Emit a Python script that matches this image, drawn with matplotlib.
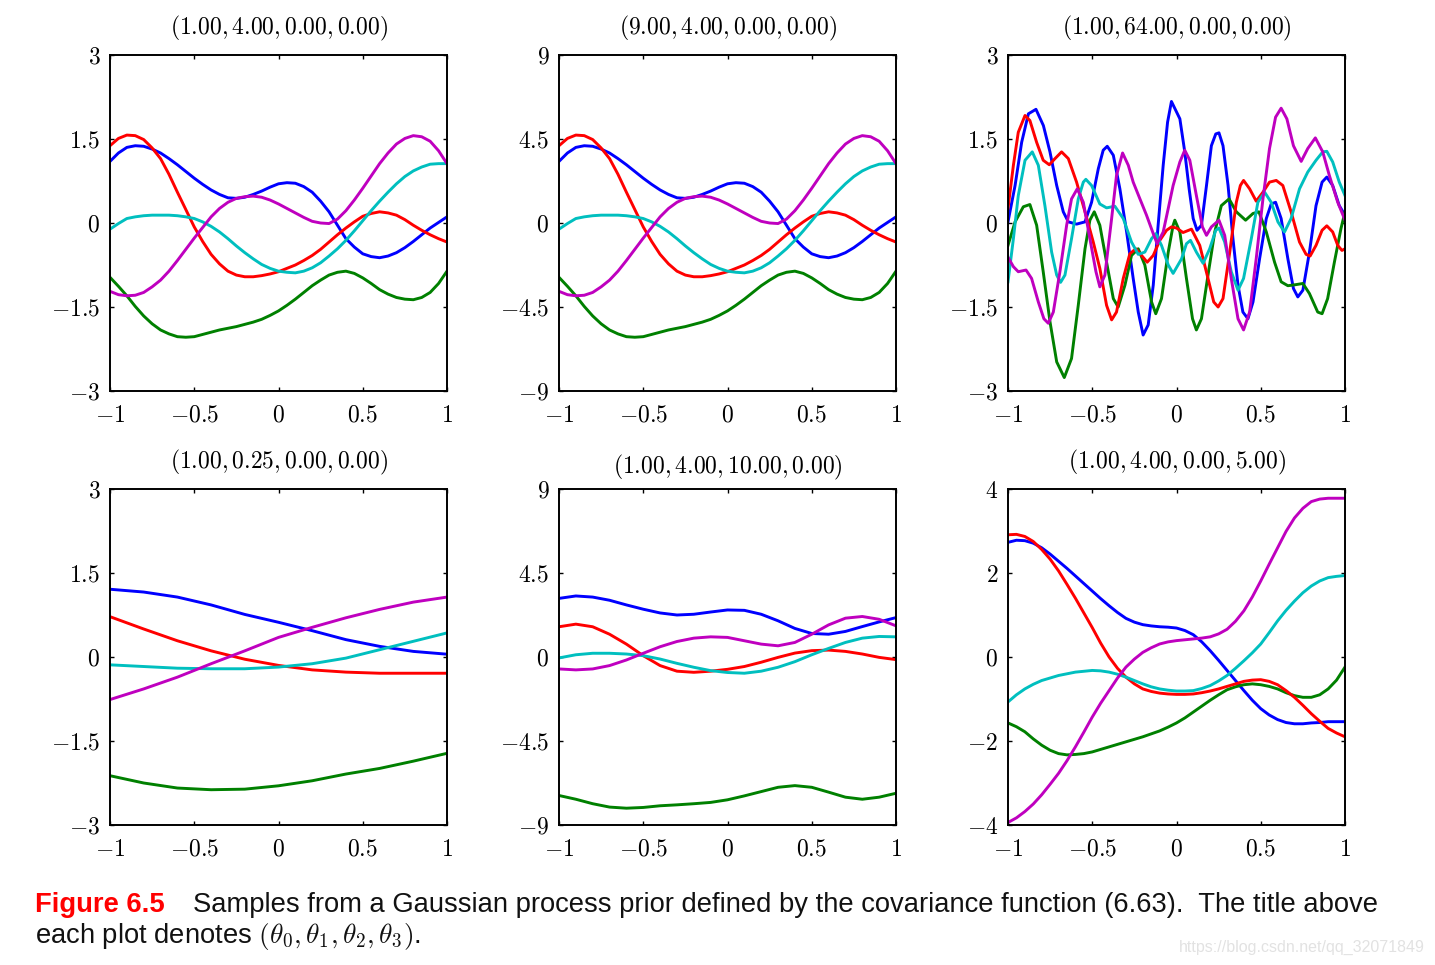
import numpy as np
import matplotlib
matplotlib.use('Agg')
import matplotlib.pyplot as plt

plt.rcParams['mathtext.fontset'] = 'cm'
plt.rcParams['font.family'] = ['Liberation Sans', 'DejaVu Sans']

# colours (matlab default line order b, g, r, c, m)
C_B, C_G, C_R, C_C, C_M = '#0000ff', '#008000', '#ff0000', '#00bfbf', '#bf00bf'

# ---------------- data ----------------
x41 = [-1.0, -0.95, -0.9, -0.85, -0.8, -0.75, -0.7, -0.65, -0.6, -0.55, -0.5,
       -0.45, -0.4, -0.35, -0.3, -0.25, -0.2, -0.15, -0.1, -0.05, 0.0,
       0.05, 0.1, 0.15, 0.2, 0.25, 0.3, 0.35, 0.4, 0.45, 0.5,
       0.55, 0.6, 0.65, 0.7, 0.75, 0.8, 0.85, 0.9, 0.95, 1.0]
x21 = [-1.0, -0.9, -0.8, -0.7, -0.6, -0.5, -0.4, -0.3, -0.2, -0.1, 0.0,
       0.1, 0.2, 0.3, 0.4, 0.5, 0.6, 0.7, 0.8, 0.9, 1.0]
x11 = [-1.0, -0.8, -0.6, -0.4, -0.2, 0.0, 0.2, 0.4, 0.6, 0.8, 1.0]

# (1.00, 4.00, 0.00, 0.00)
p1_blue = [1.10, 1.25, 1.35, 1.38, 1.37, 1.32, 1.25, 1.15, 1.04, 0.92, 0.80,
           0.69, 0.59, 0.51, 0.45, 0.44, 0.46, 0.51, 0.57, 0.64, 0.70,
           0.72, 0.71, 0.65, 0.55, 0.39, 0.20, -0.04, -0.28, -0.43, -0.55,
           -0.60, -0.62, -0.59, -0.53, -0.44, -0.33, -0.21, -0.09, 0.01, 0.11]
p1_green = [-0.97, -1.13, -1.30, -1.49, -1.66, -1.80, -1.91, -1.98, -2.03, -2.04, -2.03,
            -1.99, -1.95, -1.91, -1.88, -1.85, -1.81, -1.77, -1.72, -1.65, -1.57,
            -1.47, -1.36, -1.24, -1.12, -1.02, -0.93, -0.88, -0.86, -0.90, -0.98,
            -1.08, -1.19, -1.27, -1.33, -1.36, -1.37, -1.33, -1.24, -1.08, -0.86]
p1_red = [1.38, 1.51, 1.57, 1.56, 1.49, 1.34, 1.15, 0.87, 0.55, 0.24, -0.07,
          -0.33, -0.56, -0.73, -0.86, -0.93, -0.96, -0.96, -0.94, -0.91, -0.87,
          -0.81, -0.75, -0.67, -0.58, -0.47, -0.34, -0.21, -0.09, 0.02, 0.12,
          0.17, 0.20, 0.18, 0.14, 0.06, -0.04, -0.13, -0.21, -0.28, -0.34]
p1_cyan = [-0.11, -0.01, 0.08, 0.11, 0.13, 0.14, 0.14, 0.14, 0.13, 0.11, 0.08,
           0.02, -0.06, -0.16, -0.28, -0.41, -0.53, -0.64, -0.74, -0.81, -0.86,
           -0.88, -0.89, -0.86, -0.80, -0.71, -0.59, -0.46, -0.31, -0.14, 0.04,
           0.22, 0.39, 0.55, 0.70, 0.83, 0.93, 1.00, 1.05, 1.06, 1.06]
p1_mag = [-1.22, -1.28, -1.30, -1.29, -1.24, -1.14, -1.02, -0.86, -0.67, -0.47, -0.27,
          -0.08, 0.11, 0.26, 0.37, 0.44, 0.47, 0.48, 0.46, 0.41, 0.34,
          0.26, 0.18, 0.10, 0.03, 0.00, -0.01, 0.07, 0.22, 0.41, 0.62,
          0.84, 1.06, 1.25, 1.41, 1.51, 1.56, 1.54, 1.46, 1.29, 1.06]

# (9.00, 4.00, 0.00, 0.00)
p2_blue = [3.30, 3.75, 4.05, 4.14, 4.11, 3.96, 3.75, 3.45, 3.12, 2.76, 2.40,
           2.07, 1.77, 1.53, 1.35, 1.32, 1.38, 1.53, 1.71, 1.92, 2.10,
           2.16, 2.13, 1.95, 1.65, 1.17, 0.60, -0.12, -0.84, -1.29, -1.65,
           -1.80, -1.86, -1.77, -1.59, -1.32, -0.99, -0.63, -0.27, 0.03, 0.33]
p2_green = [-2.91, -3.39, -3.90, -4.47, -4.98, -5.40, -5.73, -5.94, -6.09, -6.12, -6.09,
            -5.97, -5.85, -5.73, -5.64, -5.55, -5.43, -5.31, -5.16, -4.95, -4.71,
            -4.41, -4.08, -3.72, -3.36, -3.06, -2.79, -2.64, -2.58, -2.70, -2.94,
            -3.24, -3.57, -3.81, -3.99, -4.08, -4.11, -3.99, -3.72, -3.24, -2.58]
p2_red = [4.14, 4.53, 4.71, 4.68, 4.47, 4.02, 3.45, 2.61, 1.65, 0.72, -0.21,
          -0.99, -1.68, -2.19, -2.58, -2.79, -2.88, -2.88, -2.82, -2.73, -2.61,
          -2.43, -2.25, -2.01, -1.74, -1.41, -1.02, -0.63, -0.27, 0.06, 0.36,
          0.51, 0.60, 0.54, 0.42, 0.18, -0.12, -0.39, -0.63, -0.84, -1.02]
p2_cyan = [-0.33, -0.03, 0.24, 0.33, 0.39, 0.42, 0.42, 0.42, 0.39, 0.33, 0.24,
           0.06, -0.18, -0.48, -0.84, -1.23, -1.59, -1.92, -2.22, -2.43, -2.58,
           -2.64, -2.67, -2.58, -2.40, -2.13, -1.77, -1.38, -0.93, -0.42, 0.12,
           0.66, 1.17, 1.65, 2.10, 2.49, 2.79, 3.00, 3.15, 3.18, 3.18]
p2_mag = [-3.66, -3.84, -3.90, -3.87, -3.72, -3.42, -3.06, -2.58, -2.01, -1.41, -0.81,
          -0.24, 0.33, 0.78, 1.11, 1.32, 1.41, 1.44, 1.38, 1.23, 1.02,
          0.78, 0.54, 0.30, 0.09, 0.00, -0.03, 0.21, 0.66, 1.23, 1.86,
          2.52, 3.18, 3.75, 4.23, 4.53, 4.68, 4.62, 4.38, 3.87, 3.18]

# (1.00, 64.00, 0.00, 0.00) -- short length scale
p3_blue_x = [-1.000, -0.958, -0.919, -0.879, -0.834, -0.790, -0.751, -0.711, -0.672, -0.642,
             -0.593, -0.543, -0.504, -0.464, -0.435, -0.411, -0.375, -0.336, -0.296, -0.257,
             -0.227, -0.198, -0.168, -0.138, -0.109, -0.079, -0.053, -0.030, 0.020, 0.049,
             0.075, 0.099, 0.122, 0.148, 0.178, 0.207, 0.233, 0.252, 0.276, 0.306,
             0.335, 0.365, 0.394, 0.424, 0.454, 0.493, 0.533, 0.562, 0.588, 0.621,
             0.661, 0.694, 0.720, 0.750, 0.789, 0.828, 0.864, 0.892, 0.927, 0.966, 1.000]
p3_blue = [0.02, 0.67, 1.44, 1.95, 2.03, 1.74, 1.27, 0.67, 0.20, 0.02,
           -0.02, 0.02, 0.37, 0.97, 1.30, 1.37, 1.21, 0.61, -0.16, -0.99,
           -1.59, -2.00, -1.82, -1.11, -0.04, 1.03, 1.80, 2.17, 1.86, 1.27,
           0.61, 0.08, -0.13, -0.04, 0.67, 1.38, 1.59, 1.61, 1.38, 0.67,
           -0.28, -1.11, -1.59, -1.71, -1.41, -0.64, 0.08, 0.34, 0.37, 0.08,
           -0.64, -1.17, -1.32, -1.20, -0.52, 0.31, 0.73, 0.82, 0.67, 0.31, 0.14]

p3_green_x = [-1.000, -0.958, -0.909, -0.870, -0.830, -0.791, -0.751, -0.711, -0.666, -0.623,
              -0.583, -0.543, -0.514, -0.488, -0.455, -0.415, -0.375, -0.346, -0.306, -0.267,
              -0.227, -0.188, -0.148, -0.123, -0.089, -0.049, -0.020, -0.010, 0.020, 0.059,
              0.095, 0.118, 0.148, 0.187, 0.227, 0.266, 0.312, 0.355, 0.410, 0.454,
              0.489, 0.533, 0.582, 0.621, 0.661, 0.710, 0.750, 0.789, 0.838, 0.864,
              0.897, 0.937, 0.976, 1.000]
p3_green = [-0.40, 0.02, 0.29, 0.33, -0.04, -0.87, -1.76, -2.48, -2.76, -2.42,
            -1.47, -0.46, 0.05, 0.20, -0.04, -0.70, -1.35, -1.50, -1.11, -0.58,
            -0.46, -0.75, -1.41, -1.62, -1.35, -0.52, -0.04, 0.05, -0.16, -0.99,
            -1.71, -1.91, -1.71, -0.93, -0.16, 0.31, 0.43, 0.20, 0.05, 0.17,
            0.20, -0.16, -0.70, -1.05, -1.12, -1.10, -1.08, -1.26, -1.59, -1.62,
            -1.35, -0.70, -0.10, 0.20]

p3_red_x = [-1.000, -0.968, -0.939, -0.899, -0.870, -0.830, -0.791, -0.755, -0.721, -0.682,
            -0.642, -0.593, -0.543, -0.494, -0.455, -0.415, -0.385, -0.356, -0.316, -0.277,
            -0.241, -0.207, -0.174, -0.138, -0.099, -0.059, -0.030, 0.000, 0.039, 0.089,
            0.138, 0.187, 0.221, 0.247, 0.276, 0.316, 0.355, 0.379, 0.398, 0.434,
            0.473, 0.513, 0.552, 0.592, 0.631, 0.680, 0.730, 0.769, 0.793, 0.828,
            0.864, 0.892, 0.927, 0.957, 0.982, 1.000]
p3_red = [0.26, 1.03, 1.62, 1.92, 1.83, 1.44, 1.12, 1.04, 1.15, 1.27,
          1.15, 0.73, 0.20, -0.34, -0.81, -1.47, -1.73, -1.59, -0.99, -0.55,
          -0.46, -0.58, -0.70, -0.58, -0.31, -0.13, -0.07, -0.09, -0.17, -0.11,
          -0.40, -0.99, -1.41, -1.50, -1.35, -0.52, 0.37, 0.67, 0.76, 0.61,
          0.39, 0.55, 0.73, 0.76, 0.67, 0.20, -0.34, -0.56, -0.59, -0.40,
          -0.13, -0.05, -0.16, -0.40, -0.49, -0.46]

p3_cyan_x = [-1.000, -0.968, -0.939, -0.899, -0.856, -0.820, -0.781, -0.741, -0.711, -0.688,
             -0.662, -0.623, -0.583, -0.553, -0.538, -0.504, -0.455, -0.415, -0.366, -0.316,
             -0.267, -0.227, -0.188, -0.148, -0.123, -0.089, -0.049, -0.020, 0.030, 0.059,
             0.083, 0.118, 0.158, 0.197, 0.233, 0.252, 0.286, 0.325, 0.365, 0.398,
             0.444, 0.483, 0.523, 0.562, 0.602, 0.641, 0.680, 0.730, 0.779, 0.828,
             0.868, 0.892, 0.927, 0.966, 1.000]
p3_cyan = [-1.05, -0.28, 0.49, 1.12, 1.27, 1.03, 0.31, -0.52, -0.93, -1.06,
           -0.93, -0.28, 0.43, 0.73, 0.78, 0.67, 0.34, 0.27, 0.30, 0.08,
           -0.34, -0.56, -0.52, -0.28, -0.19, -0.40, -0.75, -0.90, -0.64, -0.37,
           -0.31, -0.52, -0.72, -0.46, -0.13, -0.09, -0.34, -0.87, -1.20, -0.99,
           -0.28, 0.37, 0.55, 0.37, 0.02, -0.16, 0.08, 0.61, 0.91, 1.12,
           1.27, 1.28, 1.09, 0.73, 0.49]

p3_mag_x = [-1.000, -0.968, -0.939, -0.893, -0.860, -0.820, -0.787, -0.761, -0.731, -0.692,
            -0.652, -0.623, -0.589, -0.553, -0.514, -0.478, -0.455, -0.425, -0.385, -0.356,
            -0.320, -0.286, -0.257, -0.217, -0.178, -0.138, -0.115, -0.079, -0.049, -0.020,
            0.020, 0.049, 0.079, 0.118, 0.154, 0.178, 0.207, 0.252, 0.286, 0.325,
            0.365, 0.398, 0.434, 0.473, 0.513, 0.552, 0.588, 0.621, 0.655, 0.694,
            0.740, 0.779, 0.824, 0.868, 0.907, 0.957, 1.000]
p3_mag = [-0.61, -0.78, -0.87, -0.84, -0.99, -1.41, -1.71, -1.79, -1.59, -0.87,
          -0.04, 0.43, 0.61, 0.37, -0.28, -0.87, -1.14, -0.93, 0.08, 0.85,
          1.25, 1.03, 0.73, 0.43, 0.14, -0.19, -0.37, -0.16, 0.26, 0.67,
          1.09, 1.30, 1.12, 0.49, -0.07, -0.22, -0.07, 0.05, -0.22, -0.99,
          -1.71, -1.91, -1.59, -0.64, 0.43, 1.33, 1.89, 2.05, 1.86, 1.38,
          1.10, 1.33, 1.52, 1.27, 0.85, 0.37, 0.05]

# (1.00, 0.25, 0.00, 0.00)
p4_blue = [1.21, 1.16, 1.07, 0.93, 0.76, 0.62, 0.47, 0.31, 0.19, 0.10, 0.05]
p4_green = [-2.12, -2.25, -2.34, -2.37, -2.36, -2.30, -2.21, -2.09, -1.99, -1.86, -1.72]
p4_red = [0.72, 0.50, 0.29, 0.11, -0.04, -0.15, -0.23, -0.27, -0.29, -0.29, -0.29]
p4_cyan = [-0.14, -0.17, -0.20, -0.21, -0.21, -0.18, -0.12, -0.02, 0.13, 0.28, 0.43]
p4_mag = [-0.76, -0.57, -0.36, -0.12, 0.11, 0.35, 0.53, 0.70, 0.85, 0.98, 1.07]

# (1.00, 4.00, 10.00, 0.00)
p5_blue = [3.14, 3.27, 3.21, 3.04, 2.79, 2.56, 2.36, 2.25, 2.29, 2.41, 2.52,
           2.50, 2.29, 1.94, 1.53, 1.26, 1.22, 1.37, 1.63, 1.88, 2.11]
p5_green = [-7.42, -7.62, -7.86, -8.04, -8.10, -8.06, -7.97, -7.92, -7.86, -7.79, -7.65,
            -7.44, -7.21, -6.98, -6.89, -6.98, -7.24, -7.51, -7.62, -7.51, -7.30]
p5_red = [1.62, 1.76, 1.62, 1.22, 0.69, 0.07, -0.46, -0.76, -0.82, -0.76, -0.66,
          -0.51, -0.28, -0.02, 0.21, 0.34, 0.37, 0.30, 0.16, -0.02, -0.14]
p5_cyan = [-0.05, 0.12, 0.20, 0.20, 0.16, 0.07, -0.11, -0.34, -0.55, -0.73, -0.83,
           -0.87, -0.76, -0.55, -0.25, 0.12, 0.46, 0.78, 1.01, 1.10, 1.08]
p5_mag = [-0.64, -0.69, -0.64, -0.46, -0.16, 0.20, 0.55, 0.83, 1.01, 1.08, 1.05,
          0.87, 0.69, 0.60, 0.78, 1.22, 1.72, 2.08, 2.17, 2.02, 1.67]

# (1.00, 4.00, 0.00, 5.00)
p6_blue = [2.73, 2.78, 2.77, 2.71, 2.60, 2.45, 2.28, 2.11, 1.93, 1.75, 1.57,
           1.39, 1.22, 1.06, 0.92, 0.83, 0.77, 0.74, 0.72, 0.71, 0.69,
           0.63, 0.53, 0.36, 0.15, -0.08, -0.32, -0.56, -0.80, -1.03, -1.23,
           -1.38, -1.49, -1.56, -1.59, -1.59, -1.57, -1.56, -1.54, -1.54, -1.54]
p6_green = [-1.57, -1.66, -1.78, -1.95, -2.10, -2.22, -2.30, -2.33, -2.32, -2.30, -2.26,
            -2.20, -2.14, -2.08, -2.02, -1.96, -1.90, -1.83, -1.76, -1.67, -1.57,
            -1.45, -1.31, -1.17, -1.03, -0.90, -0.78, -0.71, -0.66, -0.64, -0.66,
            -0.70, -0.76, -0.85, -0.92, -0.96, -0.96, -0.90, -0.76, -0.55, -0.24]
p6_red = [2.91, 2.92, 2.87, 2.75, 2.56, 2.33, 2.05, 1.73, 1.40, 1.05, 0.70,
          0.33, 0.00, -0.27, -0.48, -0.64, -0.76, -0.82, -0.86, -0.88, -0.89,
          -0.89, -0.88, -0.85, -0.81, -0.76, -0.70, -0.64, -0.58, -0.55, -0.54,
          -0.58, -0.66, -0.80, -0.96, -1.15, -1.35, -1.53, -1.70, -1.81, -1.90]
p6_cyan = [-1.07, -0.90, -0.76, -0.65, -0.56, -0.50, -0.44, -0.40, -0.36, -0.34, -0.32,
           -0.33, -0.36, -0.41, -0.48, -0.56, -0.64, -0.71, -0.76, -0.79, -0.81,
           -0.81, -0.80, -0.75, -0.68, -0.57, -0.44, -0.27, -0.09, 0.10, 0.31,
           0.58, 0.86, 1.11, 1.33, 1.53, 1.69, 1.81, 1.89, 1.92, 1.94]
p6_mag = [-3.94, -3.83, -3.68, -3.50, -3.28, -3.03, -2.77, -2.47, -2.14, -1.79, -1.43,
          -1.10, -0.80, -0.50, -0.24, -0.05, 0.11, 0.22, 0.31, 0.36, 0.39,
          0.41, 0.43, 0.45, 0.48, 0.55, 0.66, 0.85, 1.10, 1.43, 1.81,
          2.21, 2.60, 2.99, 3.31, 3.54, 3.70, 3.76, 3.78, 3.78, 3.78]

titles = ['(1.00, 4.00, 0.00, 0.00)', '(9.00, 4.00, 0.00, 0.00)', '(1.00, 64.00, 0.00, 0.00)',
          '(1.00, 0.25, 0.00, 0.00)', '(1.00, 4.00, 10.00, 0.00)', '(1.00, 4.00, 0.00, 5.00)']
xtick_vals = [-1, -0.5, 0, 0.5, 1]
xtick_lbls = ['-1', '-0.5', '0', '0.5', '1']
ytick_sets = [
    ([-3, -1.5, 0, 1.5, 3], ['-3', '-1.5', '0', '1.5', '3']),
    ([-9, -4.5, 0, 4.5, 9], ['-9', '-4.5', '0', '4.5', '9']),
    ([-3, -1.5, 0, 1.5, 3], ['-3', '-1.5', '0', '1.5', '3']),
    ([-3, -1.5, 0, 1.5, 3], ['-3', '-1.5', '0', '1.5', '3']),
    ([-9, -4.5, 0, 4.5, 9], ['-9', '-4.5', '0', '4.5', '9']),
    ([-4, -2, 0, 2, 4], ['-4', '-2', '0', '2', '4']),
]

panels = [
    [(x41, p1_blue), (x41, p1_green), (x41, p1_red), (x41, p1_cyan), (x41, p1_mag)],
    [(x41, p2_blue), (x41, p2_green), (x41, p2_red), (x41, p2_cyan), (x41, p2_mag)],
    [(p3_blue_x, p3_blue), (p3_green_x, p3_green), (p3_red_x, p3_red),
     (p3_cyan_x, p3_cyan), (p3_mag_x, p3_mag)],
    [(x11, p4_blue), (x11, p4_green), (x11, p4_red), (x11, p4_cyan), (x11, p4_mag)],
    [(x21, p5_blue), (x21, p5_green), (x21, p5_red), (x21, p5_cyan), (x21, p5_mag)],
    [(x41, p6_blue), (x41, p6_green), (x41, p6_red), (x41, p6_cyan), (x41, p6_mag)],
]
colors = [C_B, C_G, C_R, C_C, C_M]

W, H = 1435, 965
fig = plt.figure(figsize=(W / 100, H / 100), dpi=100)

lefts = [110, 559, 1008]
tops = [55, 489]
aw, ah = 337, 336
title_pads = [15, 15, 15, 15, 11, 15]

for k in range(6):
    r, c = divmod(k, 3)
    ax = fig.add_axes([lefts[c] / W, 1 - (tops[r] + ah) / H, aw / W, ah / H])
    for (xs, ys), col in zip(panels[k], colors):
        ax.plot(xs, ys, color=col, lw=2.1, solid_joinstyle='round')
    yt, yl = ytick_sets[k]
    ax.set_xlim(-1, 1)
    ax.set_ylim(yt[0], yt[-1])
    ax.set_xticks(xtick_vals)
    ax.set_xticklabels(['$' + s + '$' for s in xtick_lbls])
    ax.set_yticks(yt)
    ax.set_yticklabels(['$' + s + '$' for s in yl])
    ax.tick_params(direction='in', length=3, width=1.0, top=True, right=True,
                   labelsize=17)
    ax.tick_params(axis='x', pad=10)
    ax.tick_params(axis='y', pad=7)
    for sp in ax.spines.values():
        sp.set_linewidth(1.4)
    ax.set_title('$' + titles[k] + '$', fontsize=17, pad=title_pads[k])

fig.text(35 / W, 1 - 905 / H, 'Figure 6.5', color='#ff0000', fontsize=19.7,
         fontweight='bold', va='center', ha='left')
fig.text(193 / W, 1 - 905 / H,
         'Samples from a Gaussian process prior defined by the covariance function (6.63).  The title above',
         fontsize=19.7, va='center', ha='left', color='#111111')
fig.text(35 / W, 1 - 936 / H, r'each plot denotes $(\theta_0, \theta_1, \theta_2, \theta_3)$.',
         fontsize=19.7, va='center', ha='left', color='#111111')
fig.text(1425 / W, 1 - 947 / H, 'https://blog.csdn.net/qq_32071849', fontsize=11.5,
         color='#e2e2e2', ha='right', va='center')

fig.savefig('out.png', dpi=100)
